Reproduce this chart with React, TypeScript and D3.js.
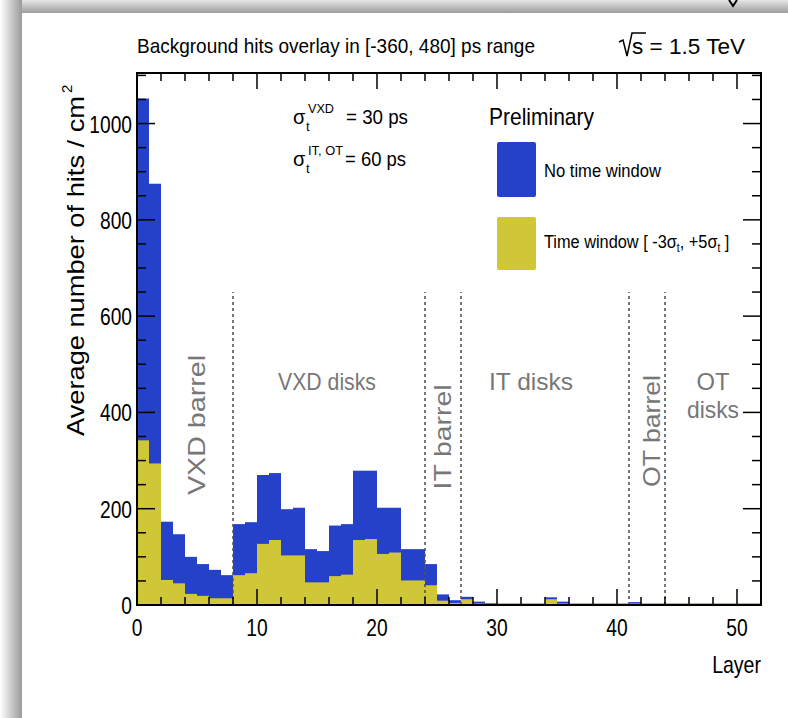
import React from "react";
import * as d3 from "d3";

// bin i covers layer [i, i+1)
const noWindow = [
  1052, 875, 173, 147, 100, 85, 73, 62, 168, 172, 270, 274, 199, 202, 116, 112,
  165, 168, 279, 279, 202, 202, 116, 116, 85, 22, 10, 17, 7, 4, 3, 3, 3, 3, 16,
  7, 3, 3, 3, 3, 3, 6, 3, 3, 3, 3, 3, 3, 3, 3, 3, 3,
];
const withWindow = [
  342, 294, 52, 45, 23, 19, 14, 14, 62, 66, 127, 135, 103, 103, 47, 47, 60, 63,
  135, 137, 106, 109, 51, 51, 41, 9, 4, 12, 3, 3, 3, 3, 3, 3, 12, 3, 3, 3, 3, 3,
  3, 3, 3, 3, 3, 3, 3, 3, 3, 3, 3, 3,
];
const boundaries = [8, 24, 27, 41, 44];
const xTicks = [0, 10, 20, 30, 40, 50];
const yTicks = [0, 200, 400, 600, 800, 1000];

const BLUE = "#2541c9";
const YELLOW = "#cfc638";
const GRAY = "#777";
const FONT = "Liberation Sans, Arial, sans-serif";

// horizontally squeeze a text around its anchor x
const squeeze = (ax: number, s: number) =>
  `translate(${ax},0) scale(${s},1) translate(${-ax},0)`;

export default function App() {
  const left = 137, right = 761, top = 73, bottom = 605;
  const x = d3.scaleLinear().domain([0, 52]).range([left, right]);
  const y = d3.scaleLinear().domain([0, 1105]).range([bottom, top]);

  const xMinor = d3.range(0, 53, 2);
  const yMinor = d3.range(0, 1101, 50);

  const bars = (vals: number[], color: string) =>
    vals.map((v, i) => (
      <rect
        key={i}
        x={x(i)}
        y={y(v)}
        width={x(i + 1) - x(i)}
        height={bottom - y(v)}
        fill={color}
      />
    ));

  return (
    <svg
      width={788}
      height={718}
      style={{ position: "absolute", left: 0, top: 0 }}
      fontFamily={FONT}
    >
      <defs>
        <linearGradient id="shL" x1="0" x2="1" y1="0" y2="0">
          <stop offset="0" stopColor="#fff" />
          <stop offset="1" stopColor="#9a9a9a" />
        </linearGradient>
        <linearGradient id="shT" x1="0" x2="0" y1="0" y2="1">
          <stop offset="0" stopColor="#e6e6e6" />
          <stop offset="1" stopColor="#9e9e9e" />
        </linearGradient>
      </defs>
      <rect x={0} y={0} width={788} height={718} fill="#fff" />
      <rect x={0} y={0} width={788} height={13} fill="url(#shT)" />
      <rect x={0} y={0} width={22} height={718} fill="url(#shL)" />
      <path d="M729,0 L733,6 L737,0" fill="none" stroke="#000" strokeWidth={2} />

      {/* bars */}
      {bars(noWindow, BLUE)}
      {bars(withWindow, YELLOW)}

      {/* layer boundaries */}
      {boundaries.map((b) => (
        <line
          key={b}
          x1={x(b)}
          x2={x(b)}
          y1={y(0)}
          y2={y(650)}
          stroke="#555"
          strokeWidth={1.6}
          strokeDasharray="3,3"
        />
      ))}

      {/* frame */}
      <rect
        x={left}
        y={top}
        width={right - left}
        height={bottom - top}
        fill="none"
        stroke="#000"
        strokeWidth={2}
      />

      {/* x ticks, bottom and top */}
      {xMinor.map((t) => {
        const len = t % 10 === 0 ? 16 : 8;
        return (
          <g key={"x" + t} stroke="#000" strokeWidth={1.5}>
            <line x1={x(t)} x2={x(t)} y1={bottom} y2={bottom - len} />
            <line x1={x(t)} x2={x(t)} y1={top} y2={top + len} />
          </g>
        );
      })}
      {/* y ticks, left and right */}
      {yMinor.map((t) => {
        const len = t % 200 === 0 ? 18 : 9;
        return (
          <g key={"y" + t} stroke="#000" strokeWidth={1.5}>
            <line x1={left} x2={left + len} y1={y(t)} y2={y(t)} />
            <line x1={right} x2={right - len} y1={y(t)} y2={y(t)} />
          </g>
        );
      })}

      {xTicks.map((t) => (
        <text key={t} x={x(t)} y={636} fontSize={24} textAnchor="middle" transform={squeeze(x(t), 0.8)}>
          {t}
        </text>
      ))}
      {yTicks.map((t) => (
        <text key={t} x={132} y={y(t) + 9} fontSize={24} textAnchor="end" transform={squeeze(132, 0.8)}>
          {t}
        </text>
      ))}

      {/* axis titles */}
      <text x={761} y={673} fontSize={23} textAnchor="end" transform={squeeze(761, 0.85)}>
        Layer
      </text>
      <g transform="translate(84,436) rotate(-90)">
        <text x={0} y={0} fontSize={24} textLength={340} lengthAdjust="spacingAndGlyphs">
          Average number of hits / cm
        </text>
        <text x={343} y={-12} fontSize={15}>2</text>
      </g>

      {/* title */}
      <text x={137} y={53} fontSize={21} textLength={398} lengthAdjust="spacingAndGlyphs">
        Background hits overlay in [-360, 480] ps range
      </text>
      <path d="M619,42 L623,40 L627,56 L632,33 L646,33" fill="none" stroke="#000" strokeWidth={1.5} />
      <text x={632} y={54} fontSize={22} textLength={113} lengthAdjust="spacingAndGlyphs">
        s = 1.5 TeV
      </text>

      {/* time resolutions */}
      <text x={293} y={124} fontSize={20}>σ</text>
      <text x={306} y={131} fontSize={13}>t</text>
      <text x={308} y={113} fontSize={13} textLength={26} lengthAdjust="spacingAndGlyphs">VXD</text>
      <text x={346} y={124} fontSize={21} textLength={62} lengthAdjust="spacingAndGlyphs">= 30 ps</text>
      <text x={293} y={166} fontSize={20}>σ</text>
      <text x={306} y={173} fontSize={13}>t</text>
      <text x={308} y={155} fontSize={13} textLength={35} lengthAdjust="spacingAndGlyphs">IT, OT</text>
      <text x={345} y={166} fontSize={21} textLength={61} lengthAdjust="spacingAndGlyphs">= 60 ps</text>

      {/* legend */}
      <text x={489} y={125} fontSize={24} textLength={105} lengthAdjust="spacingAndGlyphs">Preliminary</text>
      <rect x={497} y={142} width={39} height={55} rx={2} fill={BLUE} />
      <text x={544} y={177} fontSize={19} textLength={117} lengthAdjust="spacingAndGlyphs">No time window</text>
      <rect x={497} y={217} width={39} height={53} rx={2} fill={YELLOW} />
      <text x={544} y={248} fontSize={19} transform={squeeze(544, 0.86)}>
        <tspan>Time window [ -3σ</tspan>
        <tspan fontSize={12} dy={4}>t</tspan>
        <tspan dy={-4}>, +5σ</tspan>
        <tspan fontSize={12} dy={4}>t</tspan>
        <tspan dy={-4}> ]</tspan>
      </text>

      {/* detector regions */}
      <g fill={GRAY} fontSize={24}>
        <text transform="translate(205,425) rotate(-90)" textAnchor="middle" textLength={140} lengthAdjust="spacingAndGlyphs">VXD barrel</text>
        <text x={327} y={390} textAnchor="middle" textLength={98} lengthAdjust="spacingAndGlyphs">VXD disks</text>
        <text transform="translate(451,437) rotate(-90)" textAnchor="middle" textLength={105} lengthAdjust="spacingAndGlyphs">IT barrel</text>
        <text x={531} y={390} textAnchor="middle" textLength={84} lengthAdjust="spacingAndGlyphs">IT disks</text>
        <text transform="translate(660,431) rotate(-90)" textAnchor="middle" textLength={112} lengthAdjust="spacingAndGlyphs">OT barrel</text>
        <text x={713} y={390} textAnchor="middle" textLength={33} lengthAdjust="spacingAndGlyphs">OT</text>
        <text x={713} y={418} textAnchor="middle" textLength={52} lengthAdjust="spacingAndGlyphs">disks</text>
      </g>
    </svg>
  );
}
